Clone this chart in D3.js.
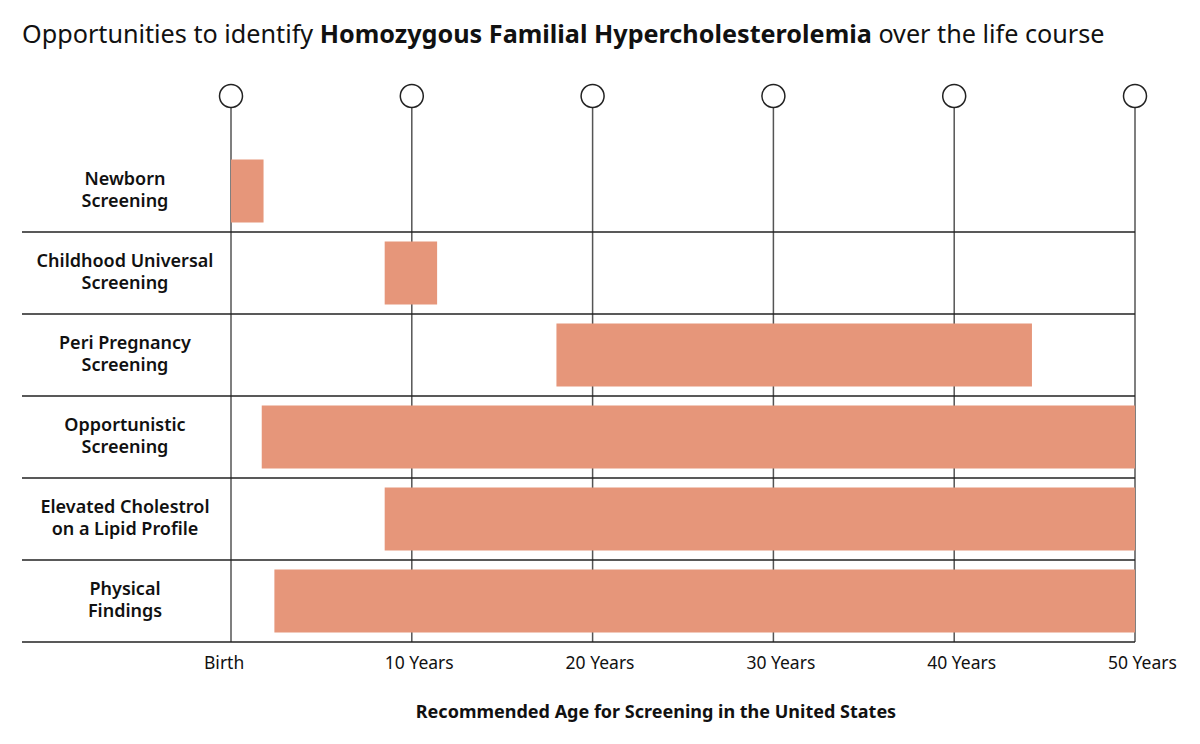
<!DOCTYPE html>
<html><head><meta charset="utf-8">
<script src="https://cdn.jsdelivr.net/npm/d3@7"></script>
<style>body{margin:0;background:#fff}svg{display:block}</style>
</head><body>
<svg id="c" width="1200" height="744"></svg>
<script>
const categories = [["Newborn","Screening"],["Childhood Universal","Screening"],["Peri Pregnancy","Screening"],["Opportunistic","Screening"],["Elevated Cholestrol","on a Lipid Profile"],["Physical","Findings"]];
const startAges = [0, 8.5, 18, 1.7, 8.5, 2.4];
const endAges = [1.8, 11.4, 44.3, 50, 50, 50];
const tickValues = [0, 10, 20, 30, 40, 50];
const tickLabels = ["Birth","10 Years","20 Years","30 Years","40 Years","50 Years"];

const font = "'Noto Sans', sans-serif";
const svg = d3.select("#c");
const x = d3.scaleLinear().domain([0,50]).range([231,1135]);
const y = d3.scaleBand().domain(d3.range(categories.length)).range([150,642]).paddingInner(0).paddingOuter(0);
const barH = 63;

// title
const t = svg.append("text").attr("x",22).attr("y",43).attr("font-family",font).attr("font-size",25.2).attr("fill","#111");
t.append("tspan").text("Opportunities to identify ");
t.append("tspan").attr("font-weight","bold").text("Homozygous Familial Hypercholesterolemia");
t.append("tspan").text(" over the life course");

// vertical lines
svg.selectAll(".vl").data(tickValues).join("line")
  .attr("x1",d=>x(d)).attr("x2",d=>x(d)).attr("y1",108).attr("y2",642)
  .attr("stroke","#555").attr("stroke-width",1.5);
svg.selectAll(".cir").data(tickValues).join("circle")
  .attr("cx",d=>x(d)).attr("cy",96).attr("r",11.5)
  .attr("fill","#fff").attr("stroke","#222").attr("stroke-width",1.5);

// horizontal row lines
svg.selectAll(".hl").data(d3.range(categories.length)).join("line")
  .attr("x1",22).attr("x2",1135).attr("y1",d=>y(d)+y.bandwidth()).attr("y2",d=>y(d)+y.bandwidth())
  .attr("stroke","#222").attr("stroke-width",1.5);

// bars
svg.selectAll(".bar").data(d3.range(categories.length)).join("rect")
  .attr("x",i=>x(startAges[i])).attr("width",i=>x(endAges[i])-x(startAges[i]))
  .attr("y",i=>y(i)+(y.bandwidth()-barH)/2).attr("height",barH)
  .attr("fill","#E6967A");

// row labels
categories.forEach((c,i)=>{
  const cy = y(i)+y.bandwidth()/2;
  const tx = svg.append("text").attr("x",125).attr("text-anchor","middle")
    .attr("font-family",font).attr("font-size",18).attr("font-weight",600).attr("fill","#111");
  c.forEach((line,j)=>{
    tx.append("tspan").attr("x",125).attr("y",cy-11+j*22+5).text(line);
  });
});

// axis tick labels
svg.selectAll(".tl").data(tickValues).join("text")
  .attr("x",d=>x(d)-27).attr("y",669).attr("text-anchor","start")
  .attr("font-family",font).attr("font-size",17.5).attr("fill","#111")
  .text((d,i)=>tickLabels[i]);

svg.append("text").attr("x",656).attr("y",718).attr("text-anchor","middle")
  .attr("font-family",font).attr("font-size",18).attr("font-weight","bold").attr("fill","#111")
  .text("Recommended Age for Screening in the United States");
</script>
</body></html>
